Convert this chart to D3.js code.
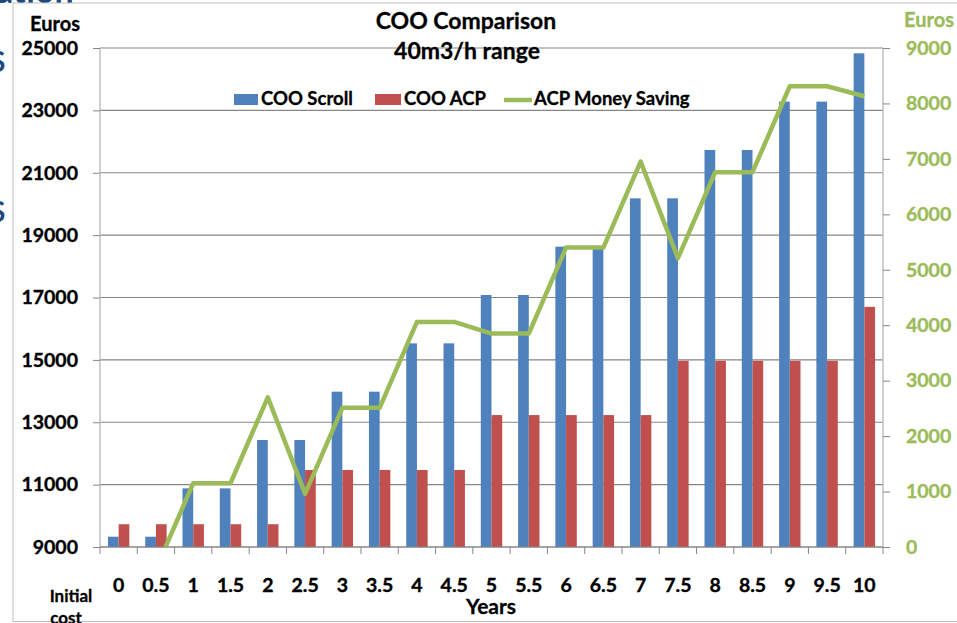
<!DOCTYPE html>
<html><head><meta charset="utf-8">
<script src="https://cdn.jsdelivr.net/npm/d3@7"></script>
<style>
html,body{margin:0;padding:0;background:#fff;}
svg{display:block;font-family:Lato,"Open Sans",sans-serif;font-weight:bold;}
</style></head>
<body><svg id="c" width="957" height="623"></svg>
<script>
const categories = ["0","0.5","1","1.5","2","2.5","3","3.5","4","4.5","5","5.5","6","6.5","7","7.5","8","8.5","9","9.5","10"];
const cooScroll = [9330,9330,10880,10880,12430,12430,13980,13980,15530,15530,17080,17080,18630,18630,20180,20180,21730,21730,23280,23280,24830];
const cooACP = [9730,9730,9730,9730,9730,11470,11470,11470,11470,11470,13230,13230,13230,13230,13230,14970,14970,14970,14970,14970,16700];
const moneySaving = [-400,-400,1150,1150,2700,960,2510,2510,4060,4060,3850,3850,5400,5400,6950,5210,6760,6760,8310,8310,8130];
const leftTicks = [9000,11000,13000,15000,17000,19000,21000,23000,25000];
const rightTicks = [0,1000,2000,3000,4000,5000,6000,7000,8000,9000];
const seriesNames = ["COO Scroll","COO ACP","ACP Money Saving"];
const colors = {"COO Scroll":"#4F81BD","COO ACP":"#C0504D","ACP Money Saving":"#9BBB59"};

const svg = d3.select("#c");
const L = 100, R = 883, T = 48, B = 547;

// background slide fragments (cut off in the reference too)
svg.append("text").attr("x",-4).attr("y",3).attr("font-size",34).attr("fill","#1F497D").text("ation");
svg.append("text").attr("x",-10).attr("y",72).attr("font-size",28).attr("fill","#1F497D").text("S");
svg.append("text").attr("x",-10).attr("y",222).attr("font-size",28).attr("fill","#1F497D").text("S");

// chart area
svg.append("rect").attr("x",13).attr("y",3).attr("width",960).attr("height",618.5)
  .attr("fill","#fff").attr("stroke","#BFBFBF").attr("stroke-width",1);

const x = d3.scaleBand().domain(categories).range([L,R]).padding(0);
const bw = x.bandwidth();
const pair = bw*0.574;
const x1 = d3.scaleBand().domain(["COO Scroll","COO ACP"]).range([(bw-pair)/2,(bw+pair)/2]).padding(0);
const yL = d3.scaleLinear().domain([9000,25000]).range([B,T]);
const yR = d3.scaleLinear().domain([0,9000]).range([B,T]);

// gridlines
svg.append("g").selectAll("line").data(leftTicks).join("line")
  .attr("x1",L).attr("x2",R).attr("y1",d=>yL(d)).attr("y2",d=>yL(d))
  .attr("stroke","#868686").attr("stroke-width",1.2);

// bars
const bars = svg.append("g");
bars.selectAll("rect.s").data(cooScroll).join("rect").attr("class","s")
  .attr("x",(d,i)=>x(categories[i])+x1("COO Scroll")).attr("width",x1.bandwidth())
  .attr("y",d=>yL(d)).attr("height",d=>B-yL(d)).attr("fill",colors["COO Scroll"]);
bars.selectAll("rect.a").data(cooACP).join("rect").attr("class","a")
  .attr("x",(d,i)=>x(categories[i])+x1("COO ACP")).attr("width",x1.bandwidth())
  .attr("y",d=>yL(d)).attr("height",d=>B-yL(d)).attr("fill",colors["COO ACP"]);

// line clipped to plot
svg.append("clipPath").attr("id","clip").append("rect").attr("x",L).attr("y",T-10).attr("width",R-L).attr("height",B-T+10);
const line = d3.line().x((d,i)=>x(categories[i])+bw/2).y(d=>yR(d));
svg.append("path").datum(moneySaving).attr("d",line).attr("clip-path","url(#clip)")
  .attr("fill","none").attr("stroke",colors["ACP Money Saving"]).attr("stroke-width",4.5).attr("stroke-linejoin","round");

// axes
const tickStyle = (sel, fill) => sel.attr("font-size",19.5).attr("font-family","Lato").attr("font-weight","bold").attr("fill",fill)
  .attr("stroke",fill).attr("stroke-width",0.35);
const axL = svg.append("g").attr("transform",`translate(${L},0)`).call(d3.axisLeft(yL).tickValues(leftTicks).tickSize(7).tickFormat(d3.format("d")));
axL.select(".domain").attr("stroke","#BFBFBF").attr("stroke-width",1.5).attr("d",`M0,${T}V${B}`);
axL.selectAll(".tick line").attr("stroke","#868686");
tickStyle(axL.selectAll(".tick text").attr("x",-22), "#000");

const axR = svg.append("g").attr("transform",`translate(${R},0)`).call(d3.axisRight(yR).tickValues(rightTicks).tickSize(7).tickFormat(d3.format("d")));
axR.select(".domain").attr("stroke","#BFBFBF").attr("stroke-width",1.5).attr("d",`M0,${T}V${B}`);
axR.selectAll(".tick line").attr("stroke","#868686");
tickStyle(axR.selectAll(".tick text").attr("x",23), "#9BBB59");

const axB = svg.append("g").attr("transform",`translate(0,${B})`).call(d3.axisBottom(x).tickSize(0));
axB.select(".domain").attr("stroke","#868686").attr("stroke-width",1.2).attr("d",`M${L},0H${R}`);
tickStyle(axB.selectAll(".tick text").attr("y",31), "#000");
// boundary tick marks
svg.append("g").selectAll("line").data(categories).join("line")
  .attr("x1",d=>x(d)).attr("x2",d=>x(d)).attr("y1",B).attr("y2",B+7).attr("stroke","#868686");
svg.append("line").attr("x1",R).attr("x2",R).attr("y1",B).attr("y2",B+7).attr("stroke","#868686");

// titles
const bold = sel => sel.attr("stroke", sel.attr("fill") || "#000").attr("stroke-width",0.3);
bold(svg.append("text").attr("x",466).attr("y",29).attr("text-anchor","middle").attr("font-size",23).attr("fill","#000").text("COO Comparison"));
bold(svg.append("text").attr("x",467).attr("y",59).attr("text-anchor","middle").attr("font-size",23).attr("fill","#000").text("40m3/h range"));
bold(svg.append("text").attr("x",55).attr("y",31).attr("text-anchor","middle").attr("font-size",20).attr("fill","#000").text("Euros"));
bold(svg.append("text").attr("x",929).attr("y",27).attr("text-anchor","middle").attr("font-size",20).attr("fill","#9BBB59").text("Euros"));
bold(svg.append("text").attr("x",491).attr("y",614).attr("text-anchor","middle").attr("font-size",21).attr("fill","#000").text("Years"));
bold(svg.append("text").attr("x",71).attr("y",602).attr("text-anchor","middle").attr("font-size",17).attr("fill","#000").text("Initial"));
bold(svg.append("text").attr("x",66).attr("y",624).attr("text-anchor","middle").attr("font-size",17).attr("fill","#000").text("cost"));

// legend
const lg = svg.append("g");
lg.append("rect").attr("x",234).attr("y",94).attr("width",24).attr("height",11).attr("fill",colors["COO Scroll"]);
bold(lg.append("text").attr("x",261).attr("y",105).attr("font-size",18.5).attr("fill","#000").text("COO Scroll"));
lg.append("rect").attr("x",375).attr("y",94).attr("width",26).attr("height",11).attr("fill",colors["COO ACP"]);
bold(lg.append("text").attr("x",404).attr("y",105).attr("font-size",18.5).attr("fill","#000").text("COO ACP"));
lg.append("line").attr("x1",504).attr("x2",532).attr("y1",100).attr("y2",100).attr("stroke",colors["ACP Money Saving"]).attr("stroke-width",4.5);
bold(lg.append("text").attr("x",534).attr("y",105).attr("font-size",18.5).attr("fill","#000").text("ACP Money Saving"));
</script></body></html>
